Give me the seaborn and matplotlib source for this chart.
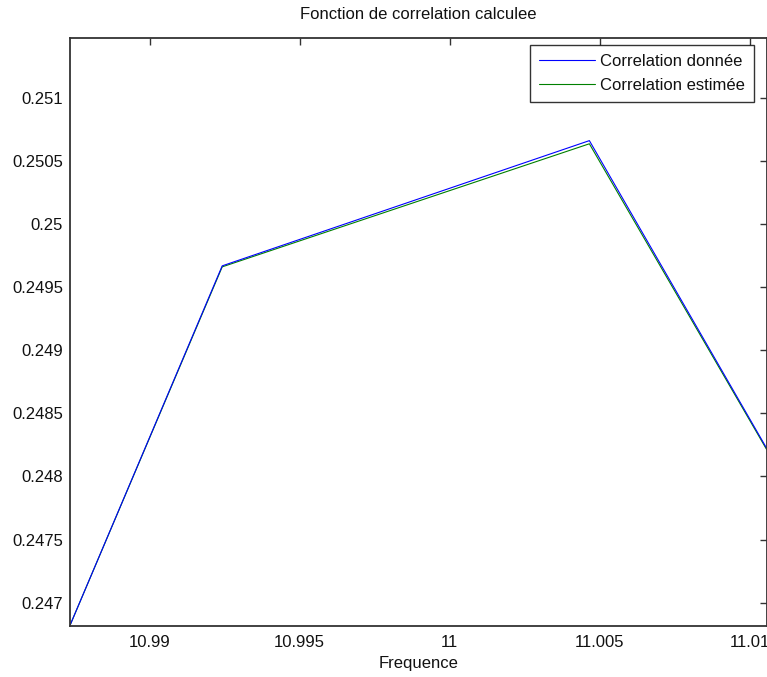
import matplotlib
matplotlib.use("Agg")
import matplotlib.pyplot as plt
import seaborn as sns
import pandas as pd
from matplotlib.lines import Line2D

# Data
frequence = [10.98735, 10.99242, 11.00465, 11.01055]
corr_donnee = [0.24682, 0.249668, 0.250660, 0.248225]
corr_estimee = [0.24682, 0.249660, 0.250635, 0.248215]
series_names = ["Correlation donnée", "Correlation estimée"]
xticks = [10.99, 10.995, 11.0, 11.005, 11.01]
xtick_labels = ["10.99", "10.995", "11", "11.005", "11.01"]
yticks = [0.247, 0.2475, 0.248, 0.2485, 0.249, 0.2495, 0.25, 0.2505, 0.251]
ytick_labels = ["0.247", "0.2475", "0.248", "0.2485", "0.249", "0.2495", "0.25", "0.2505", "0.251"]

df = pd.DataFrame({
    "Frequence": frequence * 2,
    "Correlation": corr_donnee + corr_estimee,
    "Serie": [series_names[0]] * len(frequence) + [series_names[1]] * len(frequence),
})

sns.set_style("white")
plt.rcParams["font.family"] = ["Liberation Sans", "DejaVu Sans"]
FS = 12

fig = plt.figure(figsize=(7.67, 6.77), dpi=100)
ax = fig.add_axes([70 / 767, (677 - 625.5) / 677, (766.5 - 70) / 767, (625.5 - 38) / 677])

sns.lineplot(data=df, x="Frequence", y="Correlation", hue="Serie",
             palette={series_names[0]: "#0000ff", series_names[1]: "#008000"},
             hue_order=[series_names[1], series_names[0]],
             linewidth=0.8, ax=ax, legend=False, sort=False)

ax.set_xlim(10.98735, 11.01055)
ax.set_ylim(0.246819, 0.251473)
ax.set_xticks(xticks)
ax.set_xticklabels(xtick_labels, fontsize=FS)
ax.set_yticks(yticks)
ax.set_yticklabels(ytick_labels, fontsize=FS)
ax.tick_params(direction="in", length=5, width=1, color="#333333", top=True, right=True,
               labelcolor="#111111")
ax.tick_params(axis="x", pad=7)
ax.tick_params(axis="y", pad=5)
for s in ax.spines.values():
    s.set_color("#333333")
    s.set_linewidth(1.3)
    s.set_visible(True)

ax.set_xlabel("Frequence", fontsize=FS, labelpad=4, color="#111111")
ax.set_ylabel("")
ax.set_title("Fonction de correlation calculee", fontsize=FS, pad=14, color="#111111")

handles = [Line2D([], [], color="#0000ff", lw=0.8), Line2D([], [], color="#008000", lw=0.8)]
leg = fig.legend(handles, series_names, loc="upper right",
                 bbox_to_anchor=(754 / 767, 1 - 45 / 677), bbox_transform=fig.transFigure,
                 fontsize=FS, frameon=True, fancybox=False, borderaxespad=0,
                 handlelength=3.35, handletextpad=0.3, borderpad=0.55, labelspacing=0.5)
leg.get_frame().set_edgecolor("black")
leg.get_frame().set_linewidth(1.0)
for t in leg.get_texts():
    t.set_color("#111111")

fig.savefig("out.png", dpi=100)
